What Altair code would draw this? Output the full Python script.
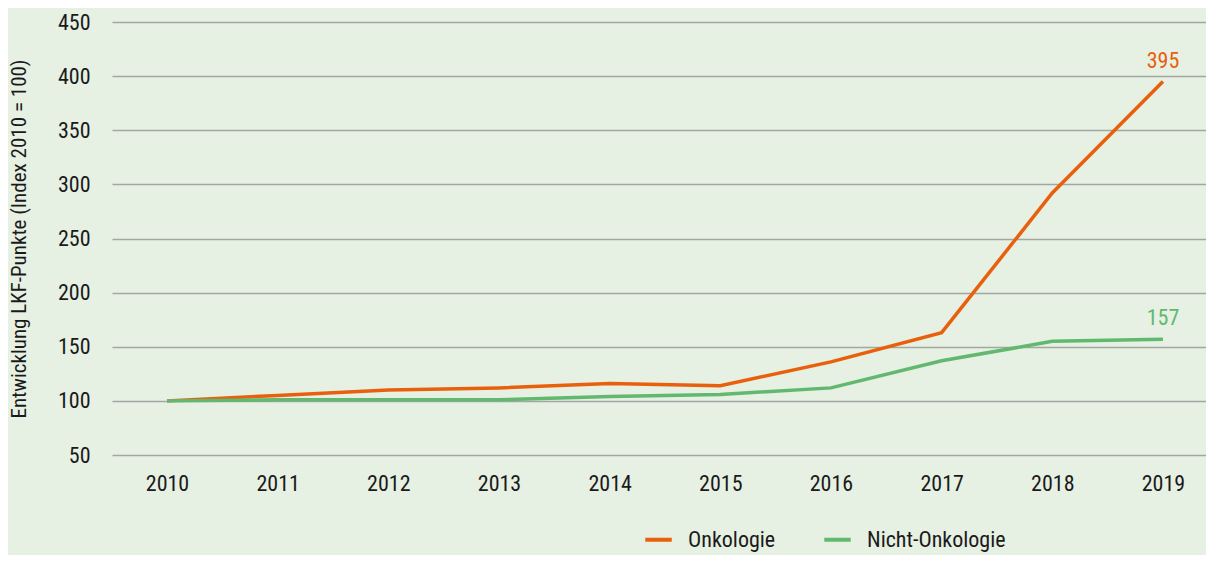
import altair as alt
import pandas as pd

years = [2010, 2011, 2012, 2013, 2014, 2015, 2016, 2017, 2018, 2019]
onkologie = [100, 105, 110, 112, 116, 114, 136, 163, 292, 395]
nicht_onkologie = [100, 101, 101, 101, 104, 106, 112, 137, 155, 157]
series_names = ["Onkologie", "Nicht-Onkologie"]
series_colors = ["#e8600c", "#62b86f"]
y_ticks = [50, 100, 150, 200, 250, 300, 350, 400, 450]

rows = []
for y, a, b in zip(years, onkologie, nicht_onkologie):
    rows.append({"Jahr": y, "Wert": a, "Serie": series_names[0]})
    rows.append({"Jahr": y, "Wert": b, "Serie": series_names[1]})
df = pd.DataFrame(rows)
last = df[df["Jahr"] == years[-1]]

FONT = "Roboto Condensed, Liberation Sans Narrow, DejaVu Sans Condensed, sans-serif"
W = "normal"

xscale = alt.Scale(domain=[2009.503, 2019.389], nice=False, zero=False)
yscale = alt.Scale(domain=[50, 450], nice=False, zero=False)
color = alt.Color(
    "Serie:N",
    scale=alt.Scale(domain=series_names, range=series_colors),
    legend=alt.Legend(
        title=None, orient="none", legendX=531, legendY=502, direction="horizontal",
        symbolType="stroke", symbolStrokeWidth=4, symbolSize=700,
        labelFontSize=22, labelFont=FONT, labelFontWeight=W, labelColor="#1a1a1a",
        columnPadding=40, labelOffset=14,
    ),
)

lines = alt.Chart(df).mark_line(strokeWidth=3.5).encode(
    x=alt.X("Jahr:Q", scale=xscale,
            axis=alt.Axis(values=years, format="d", title=None, grid=False,
                          domain=False, ticks=False, labelPadding=18,
                          labelFontSize=22, labelFont=FONT, labelFontWeight=W,
                          labelColor="#1a1a1a")),
    y=alt.Y("Wert:Q", scale=yscale,
            axis=alt.Axis(values=y_ticks, title="Entwicklung LKF-Punkte (Index 2010 = 100)",
                          grid=True, gridColor="#a3a6a2", gridWidth=1.5,
                          domain=False, ticks=False, labelPadding=22,
                          labelFontSize=22, labelFont=FONT, labelFontWeight=W,
                          labelColor="#1a1a1a",
                          titleFontSize=21, titleFont=FONT, titleFontWeight=W,
                          titleColor="#1a1a1a", titlePadding=28)),
    color=color,
)

labels = alt.Chart(last).mark_text(dy=-21, fontSize=22, font=FONT, fontWeight=W,
                                   baseline="middle").encode(
    x=alt.X("Jahr:Q", scale=xscale),
    y=alt.Y("Wert:Q", scale=yscale),
    text=alt.Text("Wert:Q", format="d"),
    color=alt.Color("Serie:N", scale=alt.Scale(domain=series_names, range=series_colors), legend=None),
)

chart = (lines + labels).properties(
    width=1094, height=433,
    autosize=alt.AutoSizeParams(type="none"),
    padding={"left": 104, "top": 14, "right": 0, "bottom": 100},
    background="#e6f0e3",
).configure_view(stroke=None)

chart.save("out.html", embed_options={"renderer": "svg", "actions": False})
